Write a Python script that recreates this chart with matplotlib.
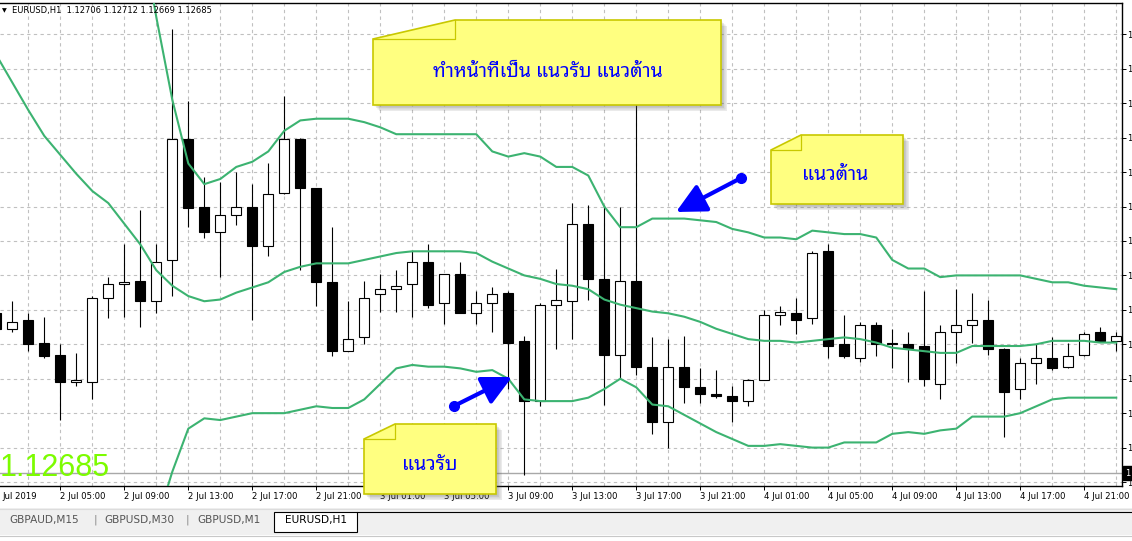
import matplotlib
matplotlib.use("Agg")
import matplotlib.pyplot as plt
from matplotlib.patches import Rectangle, Polygon
import numpy as np
import pandas as pd

# EURUSD H1 candles, first bar 2 Jul 2019 01:00 is half cut by the left edge
start = "2019-07-02 01:00"
opens = [1.12698,
         1.12689, 1.12694, 1.12681, 1.12674, 1.12658, 1.12658, 1.12707, 1.12715, 1.12717, 1.12705,
         1.12729, 1.12799, 1.12760, 1.12745, 1.12755, 1.12760, 1.12737, 1.12768, 1.12799, 1.12771,
         1.12716, 1.12676, 1.12684, 1.12709, 1.12712, 1.12715, 1.12728, 1.12704, 1.12721, 1.12698,
         1.12704, 1.12710, 1.12682, 1.12647, 1.12703, 1.12705, 1.12750, 1.12718, 1.12674, 1.12717,
         1.12667, 1.12635, 1.12667, 1.12655, 1.12651, 1.12650, 1.12647, 1.12659, 1.12697, 1.12698,
         1.12695, 1.12734, 1.12680, 1.12672, 1.12691, 1.12681, 1.12680, 1.12679, 1.12657, 1.12687,
         1.12691, 1.12694, 1.12677, 1.12654, 1.12669, 1.12672, 1.12667, 1.12674, 1.12687, 1.12682]
highs = [1.12700,
         1.12705, 1.12698, 1.12696, 1.12680, 1.12675, 1.12708, 1.12719, 1.12738, 1.12758, 1.12738,
         1.12863, 1.12821, 1.12777, 1.12774, 1.12780, 1.12773, 1.12785, 1.12824, 1.12800, 1.12771,
         1.12748, 1.12705, 1.12717, 1.12721, 1.12723, 1.12734, 1.12738, 1.12721, 1.12728, 1.12711,
         1.12713, 1.12711, 1.12685, 1.12704, 1.12724, 1.12762, 1.12761, 1.12761, 1.12760, 1.12857,
         1.12684, 1.12683, 1.12685, 1.12666, 1.12665, 1.12656, 1.12660, 1.12700, 1.12702, 1.12707,
         1.12734, 1.12738, 1.12697, 1.12693, 1.12693, 1.12689, 1.12687, 1.12711, 1.12691, 1.12712,
         1.12710, 1.12706, 1.12678, 1.12672, 1.12680, 1.12684, 1.12681, 1.12687, 1.12690, 1.12687]
lows = [1.12688,
        1.12687, 1.12676, 1.12672, 1.12636, 1.12656, 1.12648, 1.12695, 1.12696, 1.12690, 1.12698,
        1.12708, 1.12748, 1.12742, 1.12719, 1.12749, 1.12694, 1.12731, 1.12767, 1.12723, 1.12702,
        1.12673, 1.12676, 1.12680, 1.12699, 1.12699, 1.12696, 1.12701, 1.12692, 1.12698, 1.12692,
        1.12687, 1.12654, 1.12604, 1.12644, 1.12677, 1.12683, 1.12706, 1.12645, 1.12660, 1.12662,
        1.12628, 1.12620, 1.12646, 1.12646, 1.12649, 1.12635, 1.12644, 1.12659, 1.12691, 1.12686,
        1.12692, 1.12672, 1.12672, 1.12670, 1.12673, 1.12666, 1.12658, 1.12656, 1.12648, 1.12669,
        1.12681, 1.12674, 1.12626, 1.12648, 1.12657, 1.12665, 1.12666, 1.12673, 1.12682, 1.12676]
closes = [1.12689,
          1.12693, 1.12680, 1.12673, 1.12658, 1.12659, 1.12707, 1.12715, 1.12716, 1.12705, 1.12728,
          1.12799, 1.12759, 1.12745, 1.12755, 1.12760, 1.12737, 1.12767, 1.12799, 1.12771, 1.12716,
          1.12676, 1.12683, 1.12707, 1.12712, 1.12714, 1.12728, 1.12703, 1.12721, 1.12698, 1.12704,
          1.12709, 1.12681, 1.12647, 1.12703, 1.12706, 1.12750, 1.12718, 1.12674, 1.12717, 1.12667,
          1.12635, 1.12667, 1.12655, 1.12651, 1.12650, 1.12647, 1.12659, 1.12697, 1.12699, 1.12694,
          1.12733, 1.12679, 1.12673, 1.12691, 1.12680, 1.12680, 1.12678, 1.12660, 1.12687, 1.12691,
          1.12694, 1.12677, 1.12652, 1.12669, 1.12672, 1.12666, 1.12673, 1.12686, 1.12682, 1.12685]

# Bollinger bands
upper = [1.13106, 1.13091, 1.13075, 1.13060, 1.13044, 1.13029, 1.13013, 1.12994, 1.12967, 1.12924,
         1.12870, 1.12822, 1.12785, 1.12773, 1.12776, 1.12783, 1.12786, 1.12792, 1.12804, 1.12810,
         1.12811, 1.12811, 1.12811, 1.12809, 1.12806, 1.12802, 1.12802, 1.12802, 1.12802, 1.12802,
         1.12802, 1.12792, 1.12789, 1.12791, 1.12789, 1.12783, 1.12783, 1.12778, 1.12760, 1.12748,
         1.12748, 1.12753, 1.12753, 1.12753, 1.12752, 1.12751, 1.12747, 1.12745, 1.12742, 1.12742,
         1.12741, 1.12746, 1.12745, 1.12744, 1.12744, 1.12742, 1.12729, 1.12724, 1.12724, 1.12719,
         1.12720, 1.12720, 1.12720, 1.12720, 1.12720, 1.12718, 1.12716, 1.12716, 1.12714, 1.12713, 1.12712]
middle = [1.12848, 1.12832, 1.12816, 1.12801, 1.12790, 1.12779, 1.12769, 1.12762, 1.12750, 1.12738,
          1.12723, 1.12714, 1.12708, 1.12705, 1.12706, 1.12710, 1.12713, 1.12716, 1.12722, 1.12725,
          1.12727, 1.12727, 1.12727, 1.12729, 1.12731, 1.12733, 1.12734, 1.12734, 1.12734, 1.12734,
          1.12733, 1.12728, 1.12724, 1.12720, 1.12718, 1.12715, 1.12714, 1.12712, 1.12706, 1.12703,
          1.12701, 1.12699, 1.12698, 1.12696, 1.12693, 1.12689, 1.12686, 1.12683, 1.12682, 1.12682,
          1.12681, 1.12682, 1.12683, 1.12684, 1.12683, 1.12681, 1.12678, 1.12677, 1.12676, 1.12675,
          1.12675, 1.12679, 1.12679, 1.12679, 1.12679, 1.12680, 1.12682, 1.12682, 1.12682, 1.12681, 1.12681]
lower = [1.12590, 1.12573, 1.12557, 1.12542, 1.12536, 1.12529, 1.12525, 1.12530, 1.12533, 1.12552,
         1.12576, 1.12606, 1.12631, 1.12637, 1.12636, 1.12638, 1.12640, 1.12640, 1.12640, 1.12642,
         1.12644, 1.12643, 1.12643, 1.12648, 1.12657, 1.12666, 1.12668, 1.12667, 1.12667, 1.12666,
         1.12664, 1.12665, 1.12660, 1.12648, 1.12647, 1.12647, 1.12647, 1.12649, 1.12654, 1.12660,
         1.12655, 1.12645, 1.12644, 1.12639, 1.12634, 1.12629, 1.12625, 1.12621, 1.12621, 1.12622,
         1.12621, 1.12620, 1.12620, 1.12623, 1.12623, 1.12623, 1.12628, 1.12629, 1.12628, 1.12630,
         1.12631, 1.12638, 1.12638, 1.12638, 1.12640, 1.12644, 1.12648, 1.12649, 1.12649, 1.12649, 1.12649]

grid_prices = np.arange(1.1260, 1.12861, 0.0002)
hline_price = 1.12605
last_price = "1.12685"
title = "EURUSD,H1  1.12706 1.12712 1.12669 1.12685"
tabs = ["GBPAUD,M15", "GBPUSD,M30", "GBPUSD,M1", "EURUSD,H1"]
note_big = "ทำหน้าที่เป็น แนวรับ แนวต้าน"
note_res = "แนวต้าน"
note_sup = "แนวรับ"

thai = ["Noto Sans Thai Looped", "Noto Sans Thai", "Sarabun", "DejaVu Sans"]
band_col = "#3cb371"
blue = "#0000ff"

times = pd.date_range(start, periods=len(opens), freq="h")
x = np.arange(len(opens)) - 1

W, H = 1132, 541
fig = plt.figure(figsize=(W / 100, H / 100), dpi=100)
ax = fig.add_axes([0, 55 / H, 1122 / W, 483 / H])
ax.set_xlim(-0.77, 69.36)
ax.set_ylim(1.125977, 1.128782)

# dashed grid
for p in grid_prices:
    ax.axhline(p, color="#c0c0c0", lw=0.8, ls=(0, (3, 3)), zorder=0)
for k in x[x % 2 == 1]:
    ax.axvline(k, color="#c0c0c0", lw=0.8, ls=(0, (3, 3)), zorder=0)
ax.axhline(hline_price, color="#a8a8a8", lw=1, zorder=1)

# candles
for xi, o, h, l, c in zip(x, opens, highs, lows, closes):
    ax.vlines(xi, l, h, color="black", lw=0.8, zorder=2)
    fc = "white" if c >= o else "black"
    ax.add_patch(Rectangle((xi - 0.31, min(o, c)), 0.62, max(abs(c - o), 2e-6),
                           facecolor=fc, edgecolor="black", lw=0.8, zorder=3))

ax.plot(x, upper, color=band_col, lw=1.5, zorder=4)
ax.plot(x, middle, color=band_col, lw=1.5, zorder=4)
ax.plot(x, lower, color=band_col, lw=1.5, zorder=4)

ax.spines["left"].set_visible(False)
for s in ["top", "right", "bottom"]:
    ax.spines[s].set_linewidth(1)

# price scale: the window cuts every price after its first digit
ax.yaxis.tick_right()
ax.set_yticks(grid_prices)
ax.set_yticklabels([("%.5f" % p)[0] for p in grid_prices])
ax.tick_params(axis="y", length=3, width=0.7, labelsize=6, pad=0.6)

tick_bars = [k for k in x if k >= 0 and times[k + 1].hour % 4 == 1]
ax.set_xticks(tick_bars)
ax.set_xticklabels([f"{times[k + 1].day} {times[k + 1]:%b %H:%M}" for k in tick_bars],
                   ha="left")
ax.tick_params(axis="x", length=3, width=0.7, labelsize=6.1, pad=1)
# first date label, its day number is cut off by the left edge
ax.annotate(f"{times[0]:%b %Y}", xy=(x[0], 0),
            xycoords=("data", "axes fraction"), xytext=(4.6, -4), textcoords="offset points",
            ha="left", va="top", fontsize=6.1, annotation_clip=False)
ax.annotate(("%.5f" % hline_price)[0], xy=(1, hline_price), xycoords=("axes fraction", "data"),
            xytext=(2.4, 0), textcoords="offset points", ha="left", va="center",
            fontsize=6, color="white", annotation_clip=False,
            bbox=dict(boxstyle="square,pad=0.3", fc="black", ec="black"))

# overlay in pixel units for the objects drawn on the chart
ov = fig.add_axes([0, 0, 1, 1], zorder=10)
ov.set_xlim(0, W)
ov.set_ylim(H, 0)
ov.axis("off")

ov.text(2, 11, "▼", fontsize=4.5, va="center")
ov.text(12, 11, title, fontsize=6, va="center")
ov.text(0, 476, last_price, fontsize=22, family="Liberation Sans", color="#7cfc00",
        va="baseline", ha="left")

# terminal tabs
ov.add_patch(Rectangle((0, 508), W, 27, fc="#f0f0f0", ec="none"))
ov.plot([0, W], [508.5, 508.5], color="#dcdcdc", lw=0.8)
ov.plot([0, W], [535.5, 535.5], color="#c8c8c8", lw=0.8)
ov.plot([357, W], [511.5, 511.5], color="black", lw=0.8)
ov.add_patch(Rectangle((274, 511.5), 83, 20, fc="white", ec="black", lw=0.8))
for tx, name in zip([9, 104, 197, 285], tabs):
    ov.text(tx, 520, name, fontsize=7.6, va="center",
            color="black" if name == "EURUSD,H1" else "#555555")
for sx in [94, 186]:
    ov.text(sx, 520, "|", fontsize=8, va="center", color="#888888")


def note(x0, y0, x1, y1, fw, fh, text, tx, ty):
    shape = [(x0, y0 + fh), (x0 + fw, y0), (x1, y0), (x1, y1), (x0, y1)]
    for d in [6, 4.5, 3, 1.5]:
        ov.add_patch(Polygon([(px + d, py + d) for px, py in shape], fc="#606060",
                             ec="none", alpha=0.13))
    ov.add_patch(Polygon(shape, fc="#ffff80", ec="#c8c800", lw=1.2))
    ov.plot([x0, x0 + fw, x0 + fw], [y0 + fh, y0 + fh, y0], color="#c8c800", lw=0.9)
    ov.text(tx, ty, text, color=blue, fontsize=14, family=thai, ha="center", va="center")


note(373, 20, 721, 105, 82, 19, note_big, 548, 72)
note(771, 135, 903, 204, 30, 15, note_res, 835, 175)
note(364, 424, 496, 494, 31, 15, note_sup, 430, 465)

for tail, tip in [((454, 406), (512, 377)), ((741, 178), (676, 212))]:
    ov.annotate("", xy=tip, xytext=tail,
                arrowprops=dict(arrowstyle="-|>,head_length=1.8,head_width=0.9",
                                color=blue, lw=3, shrinkA=0, shrinkB=0))
    ov.plot(*tail, "o", ms=7, color=blue)

fig.savefig("out.png", dpi=100)
